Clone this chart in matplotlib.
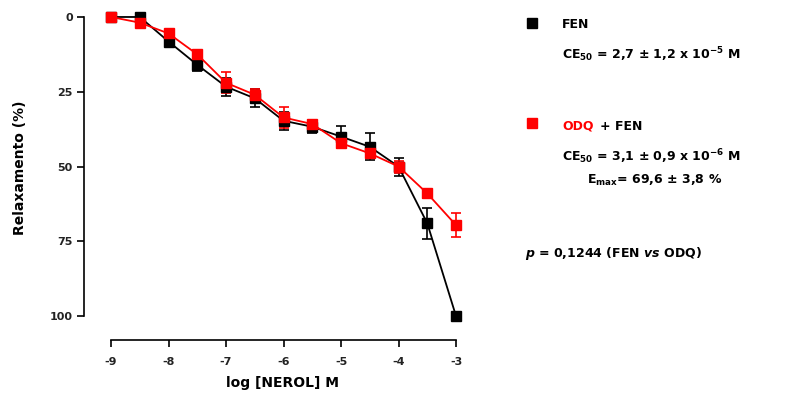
import matplotlib
matplotlib.use("Agg")
import matplotlib.pyplot as plt
import numpy as np

plt.rcParams['font.family'] = ['DejaVu Sans']
plt.rcParams['font.weight'] = 'bold'
plt.rcParams['mathtext.fontset'] = 'custom'
plt.rcParams['mathtext.rm'] = 'DejaVu Sans:bold'
plt.rcParams['mathtext.it'] = 'DejaVu Sans:italic:bold'
plt.rcParams['mathtext.bf'] = 'DejaVu Sans:bold'
plt.rcParams['mathtext.default'] = 'rm'

# log concentration of nerol (M)
log_conc = [-9, -8.5, -8, -7.5, -7, -6.5, -6, -5.5, -5, -4.5, -4, -3.5, -3]

# relaxation (%) and SEM, phenylephrine-contracted rings
fen_mean = [0, 0, 8.2, 16, 23.3, 27.2, 34.7, 36.7, 40, 43.4, 50, 69, 100]
fen_sem = [0, 0.8, 1.5, 2.0, 3.0, 3.0, 3.0, 2.0, 3.5, 4.5, 3.0, 5.3, 0]

# relaxation (%) and SEM in presence of ODQ
odq_mean = [0, 1.9, 5.5, 12.5, 22, 26, 33.6, 35.8, 42.2, 45.6, 50, 59, 69.6]
odq_sem = [0, 1.0, 1.2, 1.5, 3.5, 2.0, 3.5, 1.5, 1.5, 1.5, 2.0, 1.5, 4.0]

yticks = [0, 25, 50, 75, 100]
xticks = [-9, -8, -7, -6, -5, -4, -3]

W, H = 811, 394
fig = plt.figure(figsize=(W / 100, H / 100), dpi=100)
ax = fig.add_axes([84 / W, 54 / H, 386 / W, 329 / H])

RED = '#ff0000'
for mean, sem, col in [(fen_mean, fen_sem, 'black'), (odq_mean, odq_sem, RED)]:
    ax.errorbar(log_conc, mean, yerr=sem, color=col, marker='s', markersize=7,
                linewidth=1.3, elinewidth=1.2, capsize=3.5, capthick=1.2,
                clip_on=False)

ax.set_xlim(-9.47, -2.757)
ax.set_ylim(108, -2)
ax.spines['top'].set_visible(False)
ax.spines['right'].set_visible(False)
ax.spines['left'].set_bounds(0, 100)
ax.spines['bottom'].set_bounds(-9, -3)
for s in ('left', 'bottom'):
    ax.spines[s].set_linewidth(1.2)
ax.set_yticks(yticks)
ax.set_yticklabels([str(v) for v in yticks])
ax.set_xticks(xticks)
ax.set_xticklabels([str(v) for v in xticks])
ax.tick_params(axis='y', length=5, width=1.2, pad=3, labelsize=8, labelcolor='#222222')
ax.tick_params(axis='x', length=5, width=1.2, pad=7, labelsize=8, labelcolor='#222222')
for lab in ax.get_xticklabels() + ax.get_yticklabels():
    lab.set_fontweight('bold')


def px(x, y):
    return x / W, 1 - y / H


fig.text(*px(283, 383), 'log [NEROL] M', ha='center', va='center',
         fontsize=10, fontweight='bold')
fig.text(*px(20, 168), 'Relaxamento (%)', ha='center', va='center',
         rotation=90, fontsize=10, fontweight='bold')

# key and statistics panel
fig.patches.append(plt.Rectangle(px(527, 28), 10 / W, 10 / H, color='black',
                                 transform=fig.transFigure, figure=fig))
fig.patches.append(plt.Rectangle(px(527, 128), 10 / W, 10 / H, color=RED,
                                 transform=fig.transFigure, figure=fig))

fig.text(*px(562, 24), 'FEN', ha='left', va='center', fontsize=9)
fig.text(*px(562, 55), 'CE$_{50}$ = 2,7 ± 1,2 x 10$^{-5}$ M', ha='left',
         va='center', fontsize=9)

t_odq = fig.text(*px(562, 126), 'ODQ', ha='left', va='center', fontsize=9,
                 color=RED)
fig.canvas.draw()
r = fig.canvas.get_renderer()
bb = t_odq.get_window_extent(r)
fig.text(*px(bb.x1 + 6, 126), '+ FEN', ha='left', va='center', fontsize=9)
fig.text(*px(562, 157), 'CE$_{50}$ = 3,1 ± 0,9 x 10$^{-6}$ M', ha='left',
         va='center', fontsize=9)
fig.text(*px(587, 180), 'E$_{max}$= 69,6 ± 3,8 %', ha='left', va='center',
         fontsize=9)
fig.text(*px(525, 253), r'$\mathit{p}$ = 0,1244 (FEN $\mathit{vs}$ ODQ)',
         ha='left', va='center', fontsize=9)

fig.savefig('out.png', dpi=100)
